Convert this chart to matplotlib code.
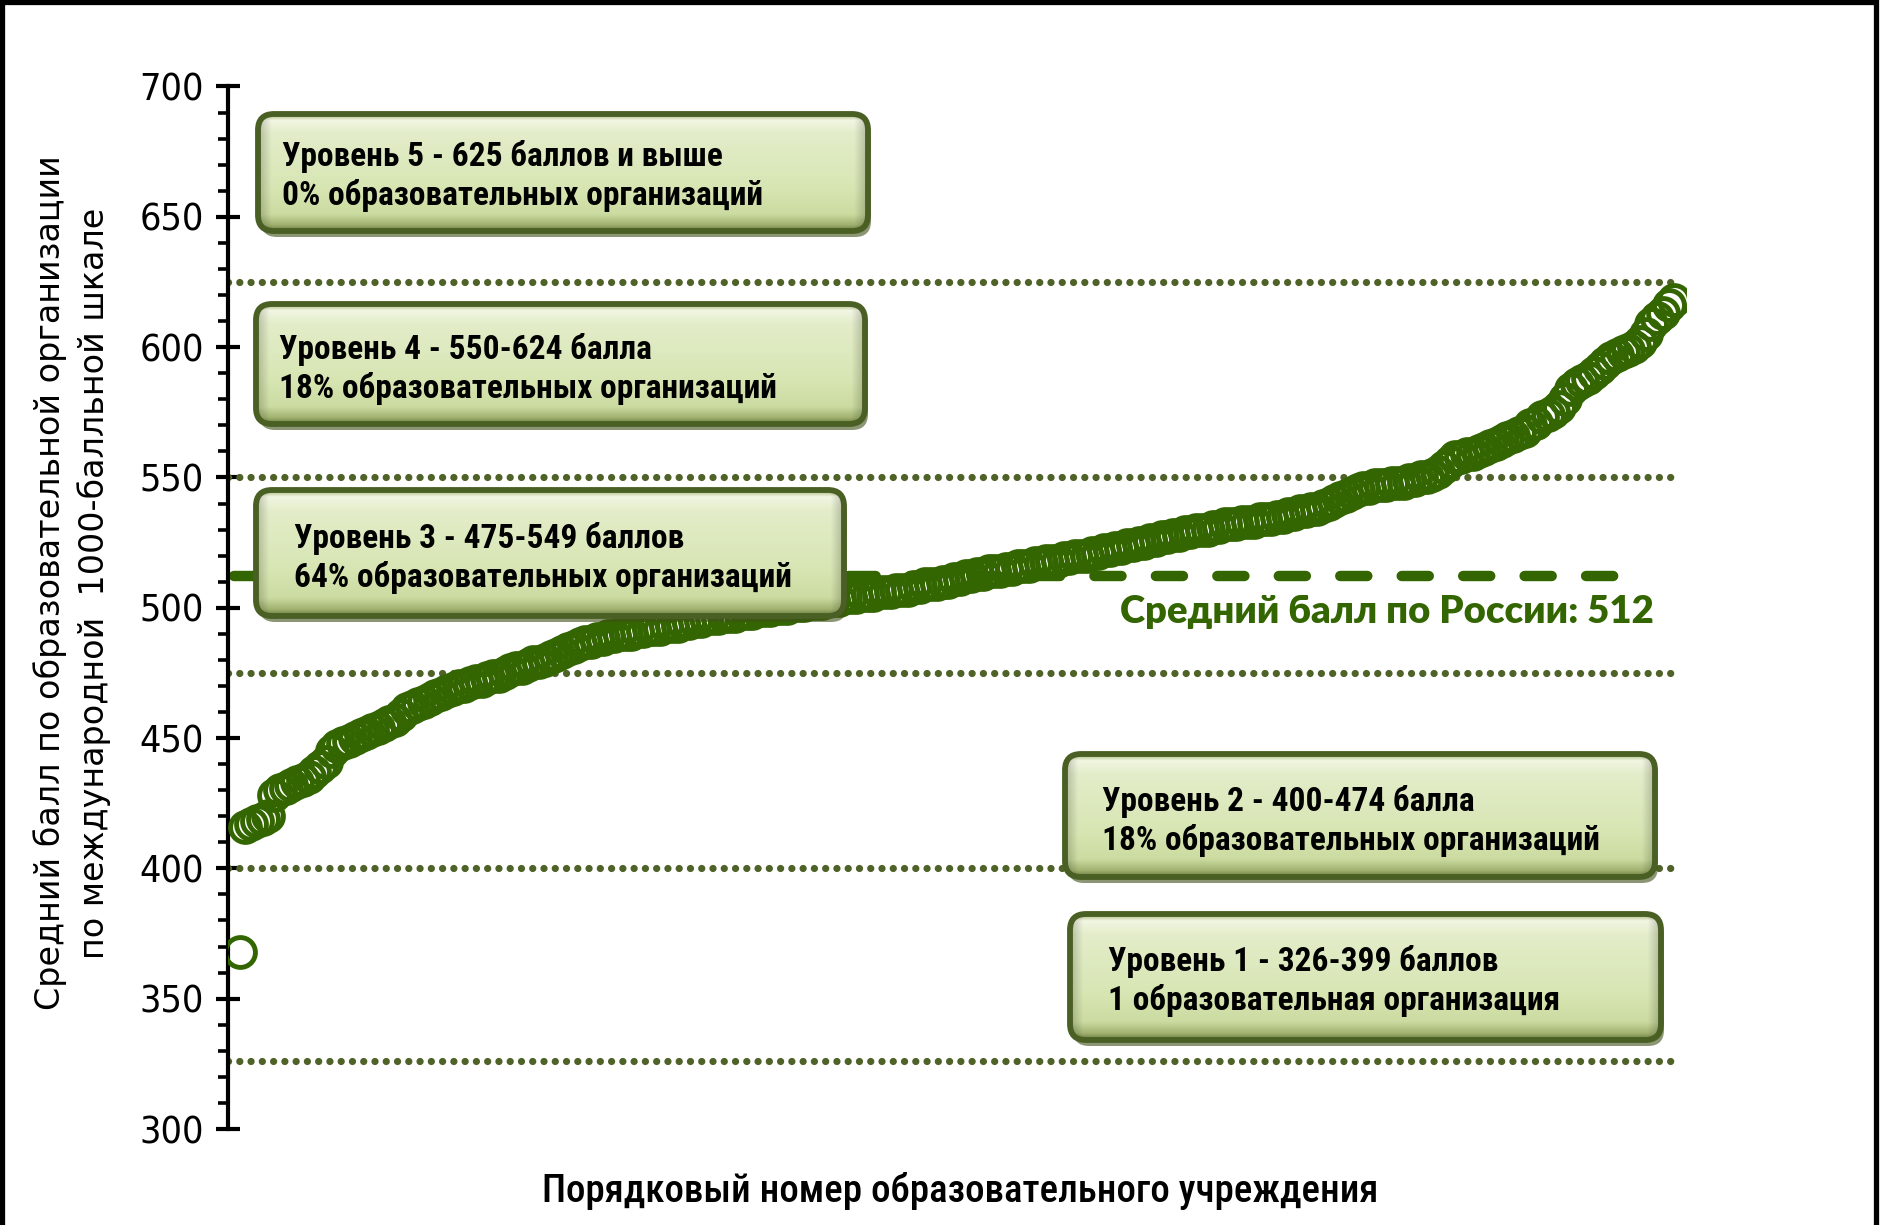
import numpy as np
import matplotlib
matplotlib.use("Agg")
import matplotlib.pyplot as plt
import matplotlib.font_manager as fm
from matplotlib.patches import FancyBboxPatch
from matplotlib.colors import to_rgb

# ---------------- data ----------------
scores_level1 = [368]
scores_level2 = [416, 417, 418, 419, 420, 428, 430, 431, 432, 433,
                 434, 435, 437, 439, 441, 445, 447, 448, 449, 450,
                 451, 452, 453, 454, 455, 456, 457, 459, 461, 462,
                 463, 464, 465, 466, 467, 468, 469, 470, 470, 471,
                 472, 472, 473, 474, 474]
scores_level3 = [475, 476, 477, 477, 478, 479, 479, 480, 481, 482,
                 483, 484, 485, 486, 487, 487, 488, 488, 489, 489,
                 490, 490, 490, 491, 491, 492, 492, 492, 493, 493,
                 493, 494, 494, 495, 495, 496, 496, 496, 497, 497,
                 497, 498, 498, 498, 499, 499, 499, 500, 500, 500,
                 501, 501, 501, 502, 502, 502, 503, 503, 503, 504,
                 504, 504, 505, 505, 505, 506, 506, 506, 507, 507,
                 507, 508, 508, 509, 509, 509, 510, 510, 511, 511,
                 512, 512, 513, 513, 514, 514, 514, 515, 515, 516,
                 516, 516, 517, 517, 518, 518, 518, 519, 519, 520,
                 520, 520, 521, 521, 522, 522, 523, 523, 524, 524,
                 525, 525, 526, 526, 527, 527, 528, 528, 529, 529,
                 530, 530, 530, 531, 531, 532, 532, 532, 533, 533,
                 533, 534, 534, 534, 535, 535, 536, 536, 537, 537,
                 538, 538, 539, 540, 541, 542, 543, 544, 545, 546,
                 546, 547, 547, 547, 548, 548, 548, 549, 549]
scores_level4 = [550, 550, 551, 552, 554, 556, 558, 558, 559, 559,
                 560, 561, 562, 563, 564, 565, 566, 567, 568, 570,
                 571, 573, 574, 575, 577, 580, 584, 586, 587, 588,
                 590, 592, 594, 596, 597, 598, 599, 600, 602, 605,
                 609, 611, 613, 616, 618]
scores = scores_level1 + scores_level2 + scores_level3 + scores_level4
order_numbers = list(range(1, len(scores) + 1))

level_bounds = [326, 400, 475, 550, 625]
mean_score = 512
mean_label = "Средний балл по России: 512"
yticks = [300, 350, 400, 450, 500, 550, 600, 650, 700]

box_texts = [
    "Уровень 5 - 625 баллов и выше\n0% образовательных организаций",
    "Уровень 4 - 550-624 балла\n18% образовательных организаций",
    "Уровень 3 - 475-549 баллов\n64% образовательных организаций",
    "Уровень 2 - 400-474 балла\n18% образовательных организаций",
    "Уровень 1 - 326-399 баллов\n1 образовательная организация",
]
ylabel = "Средний балл по образовательной организации\nпо международной  1000-балльной шкале"
xlabel = "Порядковый номер образовательного учреждения"

# ---------------- fonts ----------------
avail = {f.name for f in fm.fontManager.ttflist}
def pick(cands, default="DejaVu Sans"):
    for c in cands:
        if c in avail:
            return c
    return default
NARROW = pick(["Liberation Sans Narrow", "Roboto Condensed", "Open Sans Condensed", "Roboto"])
HUMAN = pick(["Lato", "Open Sans", "Noto Sans"])

GREEN = "#336600"
OLIVE = "#4f6228"

W, H = 1883, 1225
fig = plt.figure(figsize=(W / 100, H / 100), dpi=100)
fig.patch.set_facecolor("white")

# main axes
ax_left, ax_right = 228, 1686
ax_top, ax_bot = 86.5, 1129
ax = fig.add_axes([ax_left / W, 1 - ax_bot / H, (ax_right - ax_left) / W, (ax_bot - ax_top) / H])
ax.set_xlim(-1, len(scores) + 2)
ax.set_ylim(300, 700)
for s in ["top", "right", "bottom"]:
    ax.spines[s].set_visible(False)
ax.spines["left"].set_linewidth(3)
ax.set_xticks([])
ax.set_yticks(yticks)
ax.set_yticks(np.arange(300, 701, 10), minor=True)
ax.tick_params(axis="y", which="major", direction="inout", length=17, width=3, pad=9,
               labelsize=27)
ax.tick_params(axis="y", which="minor", direction="out", length=7, width=2.6)
for lab in ax.get_yticklabels():
    lab.set_fontfamily("DejaVu Sans")
    lab.set_fontstretch("condensed")

# level lines
for b in level_bounds:
    ax.plot([-1, len(scores)], [b, b], color=OLIVE, lw=5.2, ls=(0, (0.01, 1.55)),
            solid_capstyle="round", dash_capstyle="round", zorder=2)
# mean line
ax.plot([0, 244], [mean_score, mean_score], color=GREEN, lw=7.5, ls=(0, (2.6, 3.3)),
        dash_capstyle="round", zorder=2)
# points
ax.plot(order_numbers, scores, ls="none", marker="o", mfc="none", mec=GREEN,
        ms=21.5, mew=3.5, zorder=3)
ax.text(246.5, 498.5, mean_label, ha="right", va="center", color=GREEN,
        fontsize=27.5, fontweight="heavy", family=HUMAN, zorder=4)

# overlay in pixel coordinates for boxes / labels / frame
ov = fig.add_axes([0, 0, 1, 1], zorder=5)
ov.set_xlim(0, W)
ov.set_ylim(H, 0)
ov.axis("off")
ov.patch.set_visible(False)

def hexrgb(h):
    return np.array(to_rgb(h))

stops = [(0.0, "#a3b575"), (0.05, "#f1f6e2"), (0.16, "#e3edca"), (0.65, "#d7e5b2"),
         (0.86, "#cbdba0"), (0.95, "#a0b170"), (1.0, "#687a3a")]
rows = 120
ys = np.linspace(0, 1, rows)
col = np.zeros((rows, 3))
for k in range(3):
    col[:, k] = np.interp(ys, [s[0] for s in stops], [hexrgb(s[1])[k] for s in stops])
xs = np.linspace(0, 1, 200)
hfac = 1 - 0.2 * np.clip(1 - np.minimum(xs, 1 - xs) / 0.02, 0, 1)
grad = col[:, None, :] * hfac[None, :, None]

box_rects = [(258, 114, 868, 231), (256, 304, 865, 424), (256, 490, 844, 616),
             (1065, 754, 1655, 877), (1070, 914, 1661, 1040)]
text_pos = [(282, 176), (279, 369), (294, 558), (1102, 821), (1108, 981)]

for (x0, y0, x1, y1), (tx, ty), txt in zip(box_rects, text_pos, box_texts):
    shadow = FancyBboxPatch((x0 + 3, y0 + 6), x1 - x0, y1 - y0,
                            boxstyle="round,pad=0,rounding_size=16",
                            fc="#3f5119", ec="none", alpha=0.6, zorder=1)
    ov.add_patch(shadow)
    p = FancyBboxPatch((x0, y0), x1 - x0, y1 - y0, boxstyle="round,pad=0,rounding_size=16",
                       fc="none", ec="#4a5f24", lw=4.2, zorder=3)
    ov.add_patch(p)
    im = ov.imshow(grad, extent=(x0, x1, y1, y0), aspect="auto", zorder=2,
                   interpolation="bilinear")
    im.set_clip_path(p)
    ov.text(tx, ty, txt, ha="left", va="center", fontsize=24, fontweight="bold",
            family=NARROW, color="black", linespacing=1.25, zorder=4)

ov.set_xlim(0, W)
ov.set_ylim(H, 0)

# axis labels
ov.text(72, 583, ylabel, rotation=90, ha="center", va="center", multialignment="center",
        fontsize=24, family="DejaVu Sans", linespacing=1.38, color="black")
ov.text(960, 1191, xlabel, ha="center", va="center", fontsize=28, family=NARROW,
        fontweight="medium", color="black")

# outer frame
ov.plot([2.5, 2.5, 1876.5, 1876.5], [1240, 2, 2, 1240], color="black", lw=3.8,
        solid_joinstyle="miter", clip_on=False)

fig.savefig("out.png", dpi=100)
